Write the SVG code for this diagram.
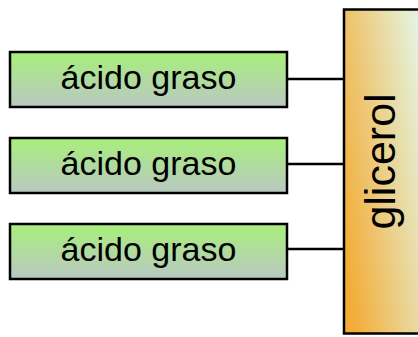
<svg xmlns="http://www.w3.org/2000/svg" width="418" height="337" viewBox="0 0 418 337">
<defs>
<linearGradient id="gGreen" x1="0" y1="0" x2="0" y2="1">
<stop offset="0" stop-color="#A8EF7A"/>
<stop offset="1" stop-color="#B9C8C2"/>
</linearGradient>
<linearGradient id="gOrange" x1="0" y1="0.75" x2="1" y2="0.25">
<stop offset="0" stop-color="#F3AC36"/>
<stop offset="1" stop-color="#E4F3DC"/>
</linearGradient>
<style>
.box{fill:url(#gGreen);stroke:#000;stroke-width:2.5}
.lbl{font-family:"Liberation Sans",Arial,sans-serif;font-size:34px;fill:#000;text-anchor:middle}
.conn{stroke:#000;stroke-width:2.5;fill:none}
</style>
</defs>
<g id="connectors">
<line class="conn" x1="287" y1="79" x2="344" y2="79"/>
<line class="conn" x1="287" y1="164" x2="344" y2="164"/>
<line class="conn" x1="287" y1="249" x2="344" y2="249"/>
</g>
<g id="glicerol">
<rect x="344" y="9.5" width="80" height="324" fill="url(#gOrange)" stroke="#000" stroke-width="2.5"/>
<text class="lbl" style="font-size:43px" transform="translate(395,161.5) rotate(-90)">glicerol</text>
</g>
<g id="acido1">
<rect class="box" x="10" y="52" width="277" height="55"/>
<text class="lbl" x="148.5" y="89">ácido graso</text>
</g>
<g id="acido2">
<rect class="box" x="10" y="138" width="277" height="55"/>
<text class="lbl" x="148.5" y="175">ácido graso</text>
</g>
<g id="acido3">
<rect class="box" x="10" y="224" width="277" height="55"/>
<text class="lbl" x="148.5" y="261">ácido graso</text>
</g>
</svg>
